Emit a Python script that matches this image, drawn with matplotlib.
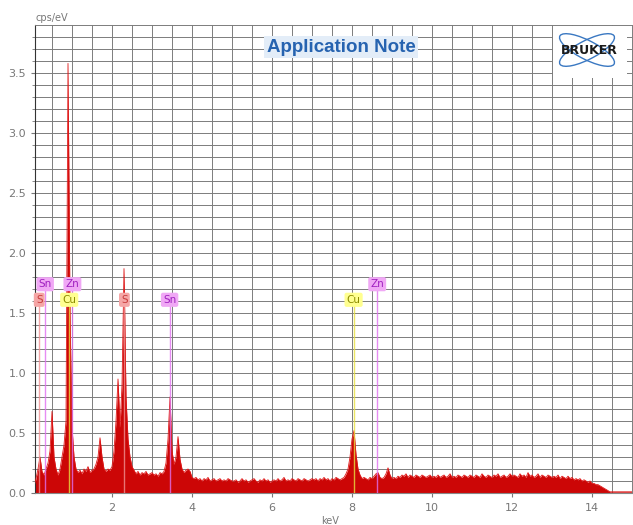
import numpy as np
import matplotlib.pyplot as plt
from matplotlib.patches import Ellipse, Rectangle

# EDX spectrum, counts, one row per keV (0.05 keV channels)
counts = [
    # 0.05 - 1.00
    0.05, 0.12, 0.20, 0.30, 0.18, 0.15, 0.20, 0.25, 0.35, 0.68,
    0.30, 0.20, 0.15, 0.20, 0.30, 0.40, 0.60, 3.58, 1.50, 0.55,
    # 1.05 - 2.00
    0.30, 0.20, 0.17, 0.19, 0.16, 0.20, 0.18, 0.22, 0.17, 0.19,
    0.20, 0.24, 0.30, 0.46, 0.30, 0.20, 0.18, 0.20, 0.19, 0.22,
    # 2.05 - 3.00
    0.35, 0.60, 0.95, 0.55, 0.90, 1.87, 0.80, 0.45, 0.30, 0.22,
    0.19, 0.16, 0.18, 0.15, 0.17, 0.16, 0.18, 0.15, 0.16, 0.17,
    # 3.05 - 4.00
    0.15, 0.16, 0.14, 0.17, 0.16, 0.18, 0.25, 0.45, 0.80, 0.35,
    0.24, 0.30, 0.47, 0.28, 0.20, 0.17, 0.19, 0.20, 0.18, 0.13,
    # 4.05 - 5.00
    0.12, 0.13, 0.11, 0.12, 0.10, 0.12, 0.11, 0.13, 0.10, 0.11,
    0.12, 0.10, 0.11, 0.12, 0.10, 0.11, 0.10, 0.12, 0.11, 0.10,
    # 5.05 - 6.00
    0.10, 0.11, 0.09, 0.10, 0.12, 0.10, 0.11, 0.09, 0.10, 0.11,
    0.12, 0.10, 0.09, 0.11, 0.10, 0.12, 0.10, 0.11, 0.09, 0.10,
    # 6.05 - 7.00
    0.11, 0.10, 0.12, 0.10, 0.11, 0.13, 0.10, 0.11, 0.10, 0.12,
    0.11, 0.10, 0.12, 0.11, 0.10, 0.12, 0.11, 0.10, 0.11, 0.12,
    # 7.05 - 8.00
    0.11, 0.12, 0.10, 0.12, 0.11, 0.13, 0.11, 0.12, 0.10, 0.12,
    0.11, 0.13, 0.12, 0.11, 0.12, 0.13, 0.16, 0.20, 0.30, 0.45,
    # 8.05 - 9.00
    0.52, 0.32, 0.20, 0.15, 0.12, 0.13, 0.12, 0.11, 0.13, 0.12,
    0.14, 0.16, 0.17, 0.13, 0.12, 0.13, 0.16, 0.21, 0.15, 0.12,
    # 9.05 - 10.00
    0.13, 0.12, 0.14, 0.13, 0.15, 0.14, 0.16, 0.13, 0.15, 0.14,
    0.13, 0.15, 0.14, 0.13, 0.15, 0.14, 0.13, 0.14, 0.15, 0.13,
    # 10.05 - 11.00
    0.14, 0.13, 0.15, 0.13, 0.14, 0.15, 0.13, 0.14, 0.16, 0.13,
    0.14, 0.13, 0.15, 0.14, 0.13, 0.15, 0.14, 0.13, 0.15, 0.14,
    # 11.05 - 12.00
    0.13, 0.15, 0.14, 0.13, 0.16, 0.14, 0.13, 0.15, 0.14, 0.13,
    0.15, 0.14, 0.16, 0.13, 0.14, 0.15, 0.13, 0.14, 0.16, 0.14,
    # 12.05 - 13.00
    0.15, 0.14, 0.13, 0.16, 0.14, 0.15, 0.13, 0.17, 0.14, 0.15,
    0.13, 0.14, 0.16, 0.13, 0.15, 0.14, 0.13, 0.15, 0.14, 0.13,
    # 13.05 - 14.00
    0.14, 0.13, 0.15, 0.12, 0.14, 0.13, 0.12, 0.14, 0.12, 0.13,
    0.11, 0.12, 0.11, 0.12, 0.10, 0.11, 0.10, 0.09, 0.10, 0.08,
    # 14.05 - 15.00
    0.08, 0.07, 0.07, 0.06, 0.05, 0.04, 0.03, 0.02, 0.01, 0.01,
    0.01, 0.01, 0.01, 0.01, 0.01, 0.01, 0.01, 0.01, 0.01, 0.01,
]
energy = np.arange(1, len(counts) + 1) * 0.05

# element markers
el_names = ["S", "Sn", "Cu", "Zn", "S", "Sn", "Cu", "Zn"]
el_energy = [0.18, 0.33, 0.93, 1.01, 2.31, 3.44, 8.04, 8.63]
el_row = [2, 1, 2, 1, 2, 2, 2, 1]

el_style = {
    "S": ("#f5a6a6", "#c83c3c", "#f09090"),
    "Sn": ("#f0a8f5", "#a020c0", "#e070f0"),
    "Zn": ("#f0a8f5", "#a020c0", "#e070f0"),
    "Cu": ("#ffff90", "#8c8c00", "#e8e040"),
}
row_y = {1: 1.74, 2: 1.61}

fig = plt.figure(figsize=(6.33, 5.25), dpi=100)
ax = fig.add_axes([35/633, 32/525, 597/633, 468/525])

ax.set_xlim(0.075, 15.0)
ax.set_ylim(0, 3.9)

# grid
for gx in np.arange(0.5, 15.0, 0.5):
    ax.axvline(gx, color="#7c7c7c", lw=0.7, zorder=0)
for gy in np.arange(0.1, 3.9, 0.1):
    ax.axhline(gy, color="#7c7c7c", lw=0.7, zorder=0)

ax.fill_between(energy, 0, counts, color="#cc0606", lw=0, zorder=2)
ax.plot(energy, counts, color="#e01818", lw=0.6, zorder=3)

for name, e, r in zip(el_names, el_energy, el_row):
    box, txt, line = el_style[name]
    y = row_y[r]
    ax.plot([e, e], [0, y - 0.05], color=line, lw=1.0, alpha=0.8, zorder=4)
    ax.text(e, y, name, ha="center", va="center", fontsize=7.5, color=txt, zorder=6,
            bbox=dict(boxstyle="round,pad=0.2", fc=box, ec="none"))

ax.set_xticks([2, 4, 6, 8, 10, 12, 14])
ax.set_yticks(np.arange(0, 3.51, 0.5))
ax.set_yticklabels(["%.1f" % v for v in np.arange(0, 3.51, 0.5)])
ax.set_yticks(np.arange(0, 3.9, 0.1), minor=True)
ax.tick_params(axis="both", labelsize=8, colors="#777777", length=3)
ax.tick_params(axis="y", which="minor", length=2, color="#777777")
ax.tick_params(axis="x", pad=4)

for s in ["top", "right"]:
    ax.spines[s].set_color("#7c7c7c")
    ax.spines[s].set_linewidth(0.7)
ax.spines["left"].set_color("#333333")
ax.spines["bottom"].set_color("#888888")

fig.text(35/633, 1 - 18/525, "cps/eV", fontsize=7, color="#777777", ha="left", va="center")
fig.text(330/633, 1 - 521/525, "keV", fontsize=7, color="#777777", ha="center", va="center")

fig.text(341/633, 1 - 47/525, "Application Note", fontsize=13.5, fontweight="bold",
         family="Liberation Sans", color="#2663b0", ha="center", va="center",
         bbox=dict(boxstyle="square,pad=0.12", fc="#e3edf8", ec="none"))

# logo
fig.patches.append(Rectangle((553/633, 1 - 78/525), 74/633, 52/525, transform=fig.transFigure,
                             fc="white", ec="none", zorder=5))
for ang in [33, -33]:
    fig.patches.append(Ellipse((587/633, 1 - 50/525), 64/633, 18/525, angle=ang,
                               transform=fig.transFigure, fill=False, ec="#3a78c2",
                               lw=1.0, zorder=6))
fig.text(589/633, 1 - 50/525, "BRUKER", fontsize=9, fontweight="bold", color="#1a1a1a",
         family="DejaVu Sans", ha="center", va="center", zorder=7)

fig.savefig("out.png", dpi=100)
